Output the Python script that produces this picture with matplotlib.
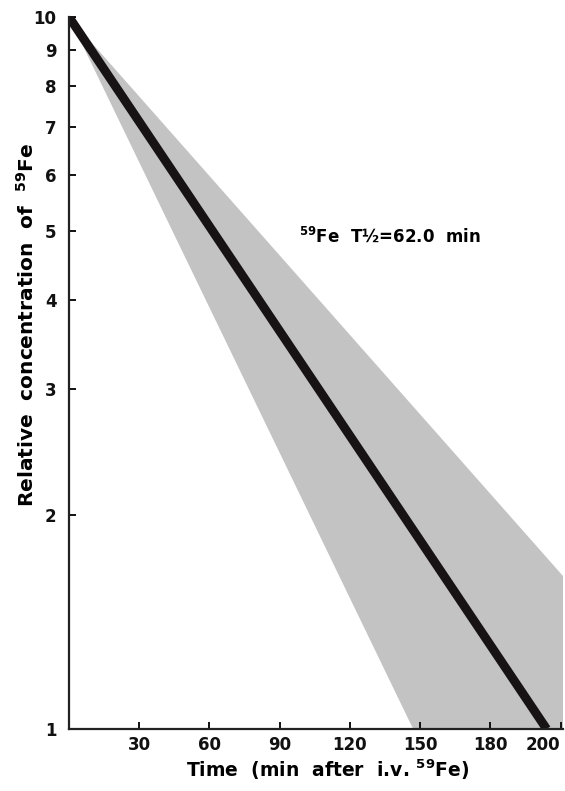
import matplotlib
matplotlib.use("Agg")
import matplotlib.pyplot as plt
from matplotlib.ticker import FixedLocator, NullLocator

# fitted decay line (min, relative concentration)
line_t = [0, 204]
line_c = [10, 1]

# shaded spread, outline of the band
band_t = [0, 211, 211, 147]
band_c = [10, 1.64, 1, 1]

xticks = [30, 60, 90, 120, 150, 180, 210]
xtick_labels = ["30", "60", "90", "120", "150", "180", "200"]
yticks = [1, 2, 3, 4, 5, 6, 7, 8, 9, 10]
ytick_labels = ["1", "2", "3", "4", "5", "6", "7", "8", "9", "10"]

plt.rcParams["font.family"] = ["DejaVu Sans"]
plt.rcParams["font.weight"] = "bold"

fig = plt.figure(figsize=(5.65, 7.91), dpi=100)
ax = fig.add_axes([69 / 565, 62 / 791, 494 / 565, 712 / 791])

ax.fill(band_t, band_c, color="#c3c3c3", lw=0, zorder=1)
ax.plot(line_t, line_c, color="#171314", lw=6.4, solid_capstyle="butt", zorder=2)

ax.set_yscale("log")
ax.set_xlim(0, 211)
ax.set_ylim(1, 10)
ax.yaxis.set_major_locator(FixedLocator(yticks))
ax.yaxis.set_minor_locator(NullLocator())
ax.set_yticklabels(ytick_labels)
ax.set_xticks(xticks)
ax.set_xticklabels(xtick_labels)
ax.get_xticklabels()[-1].set_horizontalalignment("right")

for s in ("top", "right"):
    ax.spines[s].set_visible(False)
for s in ("left", "bottom"):
    ax.spines[s].set_linewidth(1.6)
    ax.spines[s].set_color("#222222")
ax.tick_params(direction="in", length=5, width=1.4, labelsize=12, colors="#111111")
ax.tick_params(axis="x", pad=5)
ax.tick_params(axis="y", pad=9)

ax.set_xlabel(r"Time  (min  after  i.v. $^{\mathbf{59}}$Fe)", fontsize=13.5,
              fontweight="bold")
ax.set_ylabel(r"Relative  concentration  of  $^{\mathbf{59}}$Fe", fontsize=14.5,
              fontweight="bold")
ax.xaxis.set_label_coords(0.524, -0.04)
ax.yaxis.set_label_coords(-0.063, 0.567)

ax.text(0.465, 0.692, r"$^{\mathbf{59}}$Fe  T½=62.0  min", transform=ax.transAxes,
        fontsize=12, fontweight="bold", ha="left", va="center")

fig.savefig("out.png", dpi=100)
